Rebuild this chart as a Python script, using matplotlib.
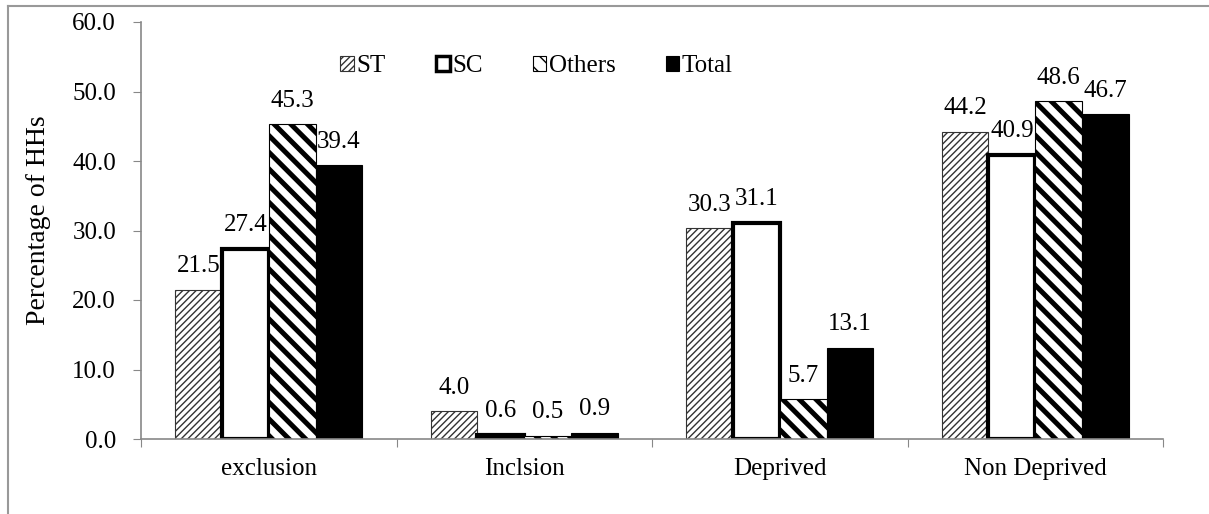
import matplotlib
matplotlib.use("Agg")
import matplotlib.pyplot as plt
import numpy as np
from matplotlib.lines import Line2D
from matplotlib.patches import Patch

categories = ["exclusion", "Inclsion", "Deprived", "Non Deprived"]
series_names = ["ST", "SC", "Others", "Total"]
st = [21.5, 4.0, 30.3, 44.2]
sc = [27.4, 0.6, 31.1, 40.9]
others = [45.3, 0.5, 5.7, 48.6]
total = [39.4, 0.9, 13.1, 46.7]
yticks = [0, 10, 20, 30, 40, 50, 60]

plt.rcParams['font.family'] = ['Liberation Serif', 'DejaVu Serif']
FS = 18

fig = plt.figure(figsize=(12.09, 5.14), dpi=100)
ax = fig.add_axes([141/1209, 1 - 439/514, (1163-141)/1209, (439-22)/514])

x = np.arange(len(categories))
w = 0.183
offs = [-1.5*w, -0.5*w, 0.5*w, 1.5*w]

styles = [
    dict(facecolor='white', edgecolor='#333333', hatch='/////', linewidth=0.8, hlw=1.0),
    dict(facecolor='white', edgecolor='black', hatch=None, linewidth=3.0, hlw=1.0),
    dict(facecolor='white', edgecolor='black', hatch='\\\\', linewidth=0.8, hlw=3.6),
    dict(facecolor='black', edgecolor='black', hatch=None, linewidth=0.8, hlw=1.0),
]
data = [st, sc, others, total]
for i, (vals, st_) in enumerate(zip(data, styles)):
    bars = ax.bar(x + offs[i], vals, w, facecolor=st_['facecolor'], edgecolor=st_['edgecolor'],
                  hatch=st_['hatch'], linewidth=st_['linewidth'], zorder=2)
    for b in bars:
        if hasattr(b, 'set_hatch_linewidth'):
            b.set_hatch_linewidth(st_['hlw'])
    for xi, v in zip(x + offs[i], vals):
        ax.annotate(f"{v:.1f}", (xi, v), xytext=(0, 9), textcoords='offset points',
                    ha='center', va='bottom', fontsize=FS)

ax.set_xlim(-0.5, 3.5)
ax.set_ylim(0, 60)
ax.set_yticks(yticks)
ax.set_yticklabels([f"{t:.1f}" for t in yticks], fontsize=FS)
ax.set_xticks([-0.5, 0.5, 1.5, 2.5, 3.5])
ax.set_xticklabels([])
ax.set_xticks(x, minor=True)
ax.set_xticklabels(categories, minor=True, fontsize=FS)
ax.tick_params(axis='x', which='major', length=6, color='#888888', direction='out')
ax.tick_params(axis='x', which='minor', length=0, pad=14)
ax.tick_params(axis='y', length=6, color='#888888', direction='out', pad=12)
for s in ['top', 'right']:
    ax.spines[s].set_visible(False)
for s in ['left', 'bottom']:
    ax.spines[s].set_color('#888888')
    ax.spines[s].set_linewidth(1.2)
ax.set_ylabel("Percentage of HHs", fontsize=20)
ax.yaxis.set_label_coords(-0.088, 0.525)

handles = []
for name, st_ in zip(series_names, styles):
    p = Patch(facecolor=st_['facecolor'], edgecolor=st_['edgecolor'], hatch=st_['hatch'],
              linewidth=2.5 if name == 'SC' else 0.8, label=name)
    handles.append(p)
leg = ax.legend(handles=handles, loc='upper center', bbox_to_anchor=(0.387, 0.975), ncol=4,
                frameon=False, fontsize=FS, handlelength=0.55, handleheight=0.55,
                handletextpad=0.1, columnspacing=2.0)

# figure border
fig.add_artist(Line2D([8/1209, 8/1209], [0, 1 - 6/514], transform=fig.transFigure, color='#999999', lw=1.5))
fig.add_artist(Line2D([8/1209, 1], [1 - 6/514, 1 - 6/514], transform=fig.transFigure, color='#999999', lw=1.5))

fig.savefig("out.png", dpi=100)
